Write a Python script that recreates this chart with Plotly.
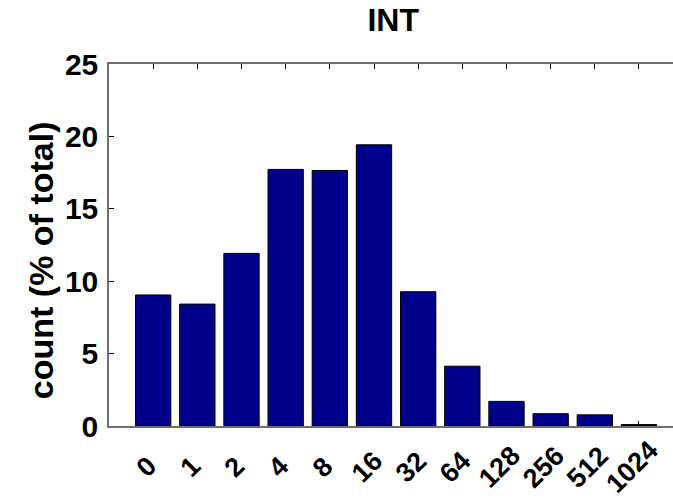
import plotly.graph_objects as go

categories = ["0", "1", "2", "4", "8", "16", "32", "64", "128", "256", "512", "1024"]
values = [9.05, 8.42, 11.92, 17.72, 17.65, 19.42, 9.27, 4.13, 1.7, 0.85, 0.77, 0.1]
y_ticks = [0, 5, 10, 15, 20, 25]

FONT = "Liberation Sans, Arial, sans-serif"

fig = go.Figure()
fig.add_trace(go.Bar(
    x=categories, y=values, width=0.8,
    marker=dict(color="#00008B", line=dict(color="black", width=1)),
    showlegend=False,
))

# rotated category labels, centred under each tick
for i, c in enumerate(categories):
    fig.add_annotation(
        x=i, xref="x", y=0, yref="paper", yshift=-41, xshift=-7,
        text=c, textangle=-45, showarrow=False,
        xanchor="center", yanchor="middle",
        font=dict(family=FONT, size=27, color="black", weight="bold"),
    )

# y-axis title
fig.add_annotation(
    x=-0.120, xref="paper", y=0.459, yref="paper",
    text="count (% of total)", textangle=-90, showarrow=False,
    xanchor="center", yanchor="middle",
    font=dict(family=FONT, size=34, color="black", weight="bold"),
)

fig.update_layout(
    width=673, height=501,
    margin=dict(l=109, r=0, t=64, b=75),
    paper_bgcolor="white", plot_bgcolor="white",
    title=dict(text="INT", x=0.504, xref="paper", xanchor="center",
               y=0.961, yref="container", yanchor="middle",
               font=dict(family=FONT, size=32, color="black", weight="bold")),
    bargap=0.2,
)
fig.update_xaxes(
    type="category", range=[-1, 11.77],
    showticklabels=False, ticks="inside", ticklen=5, tickcolor="black", tickwidth=1,
    showline=True, linecolor="#6e6e6e", linewidth=1.5, mirror="ticks",
    showgrid=False, zeroline=False, layer="below traces",
)
fig.update_yaxes(
    range=[0, 25], tickvals=y_ticks, ticktext=[str(v) for v in y_ticks],
    ticks="inside", ticklen=5, tickcolor="black", tickwidth=1,
    showline=True, linecolor="#6e6e6e", linewidth=1.5, mirror=False,
    showgrid=False, zeroline=False, layer="below traces",
    tickfont=dict(family=FONT, size=30, color="black", weight="bold"),
    ticklabelstandoff=3,
)

fig.write_html("out.html")
